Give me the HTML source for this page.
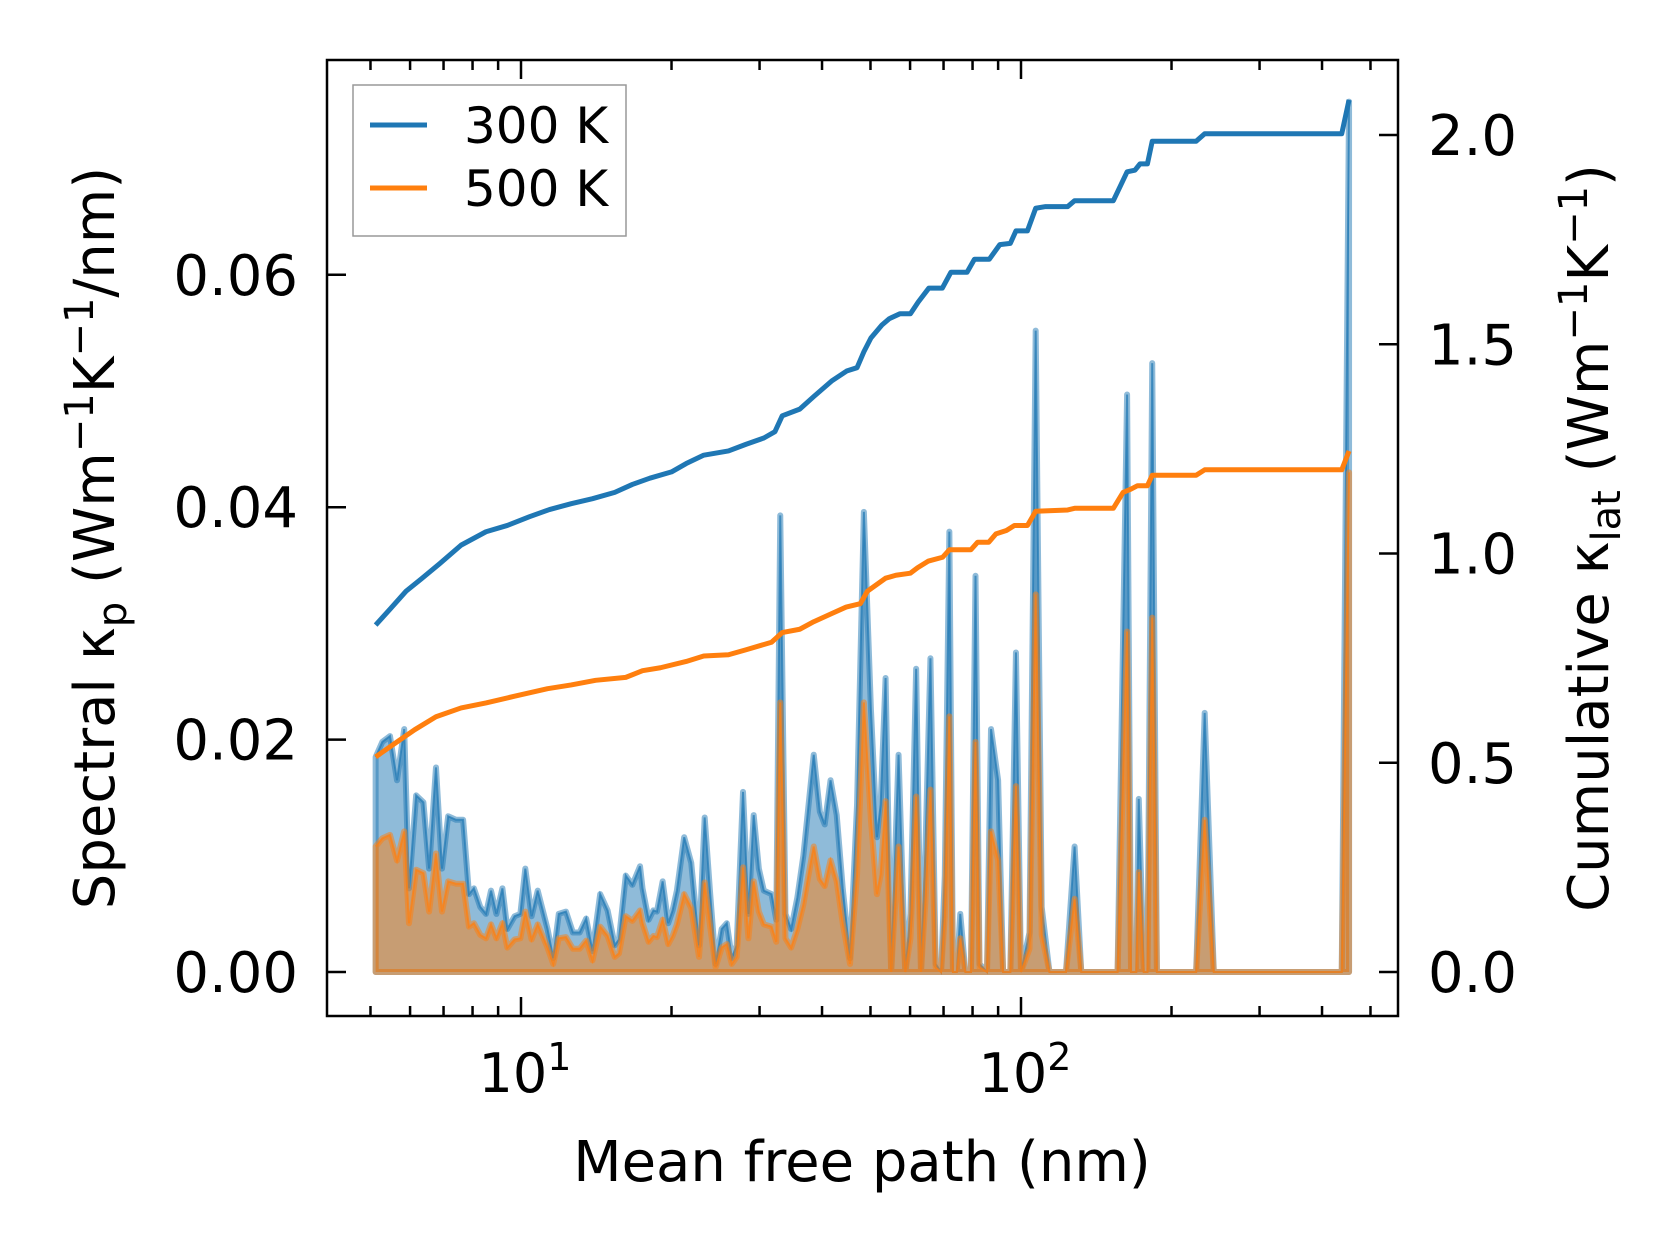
<!DOCTYPE html>
<html><head><meta charset="utf-8"><style>
body{margin:0;background:#fff}
svg{display:block;font-family:"DejaVu Sans","Liberation Sans",sans-serif}
</style></head><body>
<svg id="chart" width="1679" height="1254" viewBox="0 0 1679 1254" xmlns="http://www.w3.org/2000/svg">
<rect width="1679" height="1254" fill="#fff"/>
<g id="plot"></g>
<g id="axes"></g>
</svg>
<script>
const mfp = [5.12,5.28,5.47,5.65,5.84,5.97,6.17,6.38,6.55,6.76,6.95,7.15,7.41,7.66,7.87,8.05,8.29,8.51,8.71,8.93,9.18,9.39,9.71,9.97,10.2,10.5,10.8,11.3,11.6,11.9,12.3,12.7,13.1,13.5,13.9,14.4,14.9,15.4,15.7,16.2,16.7,17.3,17.5,18.0,18.4,18.7,19.2,19.7,20.1,20.5,21.2,21.9,22.7,23.3,23.9,24.5,25.2,25.8,26.4,27.0,27.8,28.5,29.2,29.9,30.6,31.7,32.4,33.0,33.8,34.7,35.7,36.7,37.6,38.5,39.6,40.5,41.6,42.8,44.0,45.5,47.0,48.5,50.1,51.5,52.4,53.6,55.0,56.9,58.7,60.1,61.7,63.1,64.4,65.9,67.5,69.2,70.4,71.9,73.1,74.4,75.6,77.4,79.4,81.1,82.6,85.5,87.1,90.0,92.1,95.2,97.7,100,104,107,110,114,123,128,132,151,156,163,166,170,172,176,179,183,187,193,224,233,243,438,453];
const spec300 = [.0185,.0198,.0203,.0165,.0209,.0072,.0152,.0146,.0089,.0176,.0089,.0134,.0131,.0131,.0067,.0072,.0056,.0050,.0070,.0050,.0072,.0037,.0048,.0050,.0089,.0048,.0070,.0037,.0012,.0050,.0052,.0034,.0034,.0046,.0018,.0067,.0053,.0023,.0028,.0083,.0075,.0091,.0072,.0045,.0053,.0052,.0078,.0042,.0053,.0070,.0116,.0094,.0023,.0133,.0067,.0007,.0037,.0042,.0012,.0023,.0155,.0050,.0135,.0089,.0070,.0067,.0045,.0393,.0050,.0037,.0064,.0100,.0144,.0187,.0138,.0127,.0165,.0135,.0072,.0012,.0144,.0396,.0226,.0116,.0144,.0253,0,.0187,0,.0050,.0261,0,.0105,.0270,.0007,0,.0083,.0379,0,0,.0050,0,0,.0341,.0007,0,.0209,.0165,0,0,.0275,0,.0034,.0552,.0056,0,0,.0108,0,0,0,.0497,0,0,.0149,0,0,.0524,0,0,0,.0223,0,0,.0749];
const spec500 = [.0108,.0115,.0118,.0096,.0121,.0042,.0088,.0085,.0052,.0102,.0052,.0078,.0076,.0076,.0039,.0042,.0032,.0029,.0041,.0029,.0042,.0021,.0028,.0029,.0052,.0028,.0041,.0021,.0007,.0029,.0030,.0020,.0020,.0027,.0010,.0039,.0031,.0013,.0016,.0048,.0044,.0053,.0042,.0026,.0031,.0030,.0045,.0024,.0031,.0041,.0067,.0055,.0013,.0077,.0039,.0004,.0021,.0024,.0007,.0013,.0090,.0029,.0078,.0052,.0041,.0039,.0026,.0232,.0029,.0021,.0037,.0058,.0084,.0108,.0080,.0074,.0096,.0078,.0042,.0007,.0084,.0232,.0131,.0067,.0084,.0147,0,.0108,0,.0029,.0151,0,.0061,.0157,.0004,0,.0048,.0220,0,0,.0029,0,0,.0198,.0004,0,.0121,.0096,0,0,.0160,0,.0020,.0325,.0032,0,0,.0063,0,0,0,.0293,0,0,.0086,0,0,.0305,0,0,0,.0131,0,0,.0430];
const cumX300 = [5.12,5.47,5.89,6.33,6.88,7.59,8.51,9.39,10.4,11.4,12.6,13.9,15.4,16.7,18.1,20.0,21.4,23.2,26.0,28.2,30.6,32.2,33.3,36.1,38.5,41.9,44.8,47.0,48.5,50.1,52.7,54.5,57.3,60.1,62.3,65.4,69.6,72.4,78.0,80.7,86.4,90.7,95.2,97.7,103,107,112,124,128,153,158,163,169,173,179,183,224,233,438,453];
const cum300 = [.829,.867,.910,.940,.976,1.020,1.052,1.067,1.088,1.105,1.119,1.131,1.146,1.165,1.180,1.195,1.215,1.235,1.245,1.261,1.276,1.291,1.329,1.345,1.375,1.413,1.436,1.444,1.482,1.515,1.546,1.561,1.573,1.573,1.601,1.634,1.634,1.672,1.672,1.703,1.703,1.738,1.741,1.771,1.771,1.825,1.829,1.829,1.843,1.843,1.878,1.912,1.916,1.931,1.931,1.985,1.985,2.003,2.003,2.084];
const cumX500 = [5.12,5.56,6.13,6.76,7.59,8.51,9.71,11.3,12.6,14.1,16.2,17.5,19.0,21.4,23.2,26.0,28.2,31.7,33.3,36.1,38.5,41.9,44.7,47.7,49.3,53.6,56.2,60.1,62.1,65.3,69.7,71.9,79.4,81.9,86.2,89.1,93.5,97.0,103,107,124,128,153,160,166,171,179,183,224,233,438,453];
const cum500 = [.514,.544,.579,.610,.631,.643,.659,.677,.686,.697,.704,.720,.727,.742,.755,.758,.770,.788,.811,.819,.837,.857,.872,.880,.910,.941,.948,.953,.966,.982,.991,1.009,1.009,1.027,1.027,1.047,1.055,1.067,1.067,1.101,1.104,1.108,1.108,1.146,1.154,1.162,1.162,1.187,1.187,1.200,1.200,1.245];
const leftTicks = [0,0.02,0.04,0.06];
const leftTickLabels = ["0.00","0.02","0.04","0.06"];
const rightTicks = [0,0.5,1.0,1.5,2.0];
const rightTickLabels = ["0.0","0.5","1.0","1.5","2.0"];

const NS="http://www.w3.org/2000/svg";
const AX={l:327,r:1398,t:60,b:1016};
const xS=v=>521+(Math.log10(v)-1)*500;
const yL=v=>972-v/0.02*232.4;
const yR=v=>972-v/0.5*209.25;
const plot=document.getElementById('plot'), axes=document.getElementById('axes');
function mk(tag,attrs,parent){const e=document.createElementNS(NS,tag);for(const k in attrs)e.setAttribute(k,attrs[k]);parent.appendChild(e);return e;}

function spectral(xs,ys,color,name){
  const n=Math.min(xs.length,ys.length);
  let d=`M${xS(xs[0])},${yL(0)}`;
  for(let i=0;i<n;i++)d+=`L${xS(xs[i])},${yL(ys[i])}`;
  d+=`L${xS(xs[n-1])},${yL(0)}Z`;
  const f=mk('path',{d:d,fill:color,'fill-opacity':0.5,stroke:color,'stroke-opacity':0.5,'stroke-width':6,'stroke-linejoin':'round'},plot);
  
  
  let ld='';
  for(let i=0;i<n;i++)ld+=(i?'L':'M')+xS(xs[i])+','+yL(ys[i]);
  const l=mk('path',{d:ld,fill:'none',stroke:color,'stroke-width':2,'stroke-opacity':0.7},plot);
  
  
}
spectral(mfp,spec300,'#1f77b4','spectral-300k');
spectral(mfp,spec500,'#ff7f0e','spectral-500k');

function cum(xs,ys,color,name){
  let d='';
  for(let i=0;i<Math.min(xs.length,ys.length);i++)d+=(i?'L':'M')+xS(xs[i])+','+yR(ys[i]);
  const p=mk('path',{d:d,fill:'none',stroke:color,'stroke-width':5,'stroke-linejoin':'round'},plot);
  
  
}
cum(cumX300,cum300,'#1f77b4','cumulative-300k');
cum(cumX500,cum500,'#ff7f0e','cumulative-500k');

const fr=mk('rect',{x:AX.l,y:AX.t,width:AX.r-AX.l,height:AX.b-AX.t,fill:'none',stroke:'#000','stroke-width':2.5},axes);



for(let dec=0;dec<=2;dec++){
  for(let m=1;m<=9;m++){
    const v=m*Math.pow(10,dec);
    if(v<4.6||v>500)continue;
    const x=xS(v);
    if(x<AX.l||x>AX.r)continue;
    const L=(m===1)?19:10;
    mk('line',{x1:x,x2:x,y1:AX.b,y2:AX.b-L,stroke:'#000','stroke-width':2.5},axes);
    mk('line',{x1:x,x2:x,y1:AX.t,y2:AX.t+L,stroke:'#000','stroke-width':2.5},axes);
  }
}
[[10,'1'],[100,'2']].forEach(([v,e])=>{
  const t=mk('text',{x:xS(v)+4,y:1092,'font-size':54,'text-anchor':'middle'},axes);
  
  
  t.innerHTML=`10<tspan dy="-22" font-size="38">${e}</tspan>`;
});
leftTicks.forEach((v,i)=>{
  const y=yL(v);
  mk('line',{x1:AX.l,x2:AX.l+19,y1:y,y2:y,stroke:'#000','stroke-width':2.5},axes);
  const t=mk('text',{x:298,y:y+20,'font-size':56,'text-anchor':'end'},axes);
  
  
  t.textContent=leftTickLabels[i];
});
rightTicks.forEach((v,i)=>{
  const y=yR(v);
  mk('line',{x1:AX.r,x2:AX.r-19,y1:y,y2:y,stroke:'#000','stroke-width':2.5},axes);
  const t=mk('text',{x:1428,y:y+20,'font-size':56},axes);
  
  
  t.textContent=rightTickLabels[i];
});
</script>
<svg style="position:absolute;left:0;top:0" width="1679" height="1254" xmlns="http://www.w3.org/2000/svg" font-family="DejaVu Sans, Liberation Sans, sans-serif">
<text x="862" y="1181" font-size="56" text-anchor="middle">Mean free path (nm)</text>
<text transform="translate(114,538) rotate(-90)" font-size="56" text-anchor="middle">Spectral κ<tspan dy="12" font-size="40">p</tspan><tspan dy="-12"> (Wm</tspan><tspan dy="-21" font-size="40">−1</tspan><tspan dy="21">K</tspan><tspan dy="-21" font-size="40">−1</tspan><tspan dy="21">/nm)</tspan></text>
<text transform="translate(1608,538) rotate(-90)" font-size="56" text-anchor="middle">Cumulative κ<tspan dy="12" font-size="40">lat</tspan><tspan dy="-12"> (Wm</tspan><tspan dy="-21" font-size="40">−1</tspan><tspan dy="21">K</tspan><tspan dy="-21" font-size="40">−1</tspan><tspan dy="21">)</tspan></text>
<g>
<rect x="353" y="85" width="273" height="151" fill="#fff" fill-opacity="0.8" stroke="#999" stroke-width="1.5"/>
<line x1="370" y1="125" x2="427" y2="125" stroke="#1f77b4" stroke-width="5"/>
<text x="464" y="143" font-size="50">300 K</text>
<line x1="370" y1="188" x2="427" y2="188" stroke="#ff7f0e" stroke-width="5"/>
<text x="464" y="206" font-size="50">500 K</text>
</g>
</svg>
</body></html>
